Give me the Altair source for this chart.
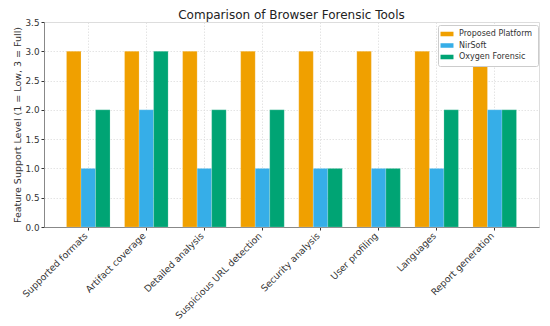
import altair as alt
import pandas as pd

categories = ["Supported formats", "Artifact coverage", "Detailed analysis",
              "Suspicious URL detection", "Security analysis", "User profiling",
              "Languages", "Report generation"]
tools = ["Proposed Platform", "NirSoft", "Oxygen Forensic"]
proposed = [3, 3, 3, 3, 3, 3, 3, 3]
nirsoft = [1, 2, 1, 1, 1, 1, 1, 2]
oxygen = [2, 3, 2, 2, 1, 1, 2, 2]
y_ticks = [0.0, 0.5, 1.0, 1.5, 2.0, 2.5, 3.0, 3.5]
colors = ["#F0A000", "#36AEE8", "#00A474"]

rows = []
for series, name in zip([proposed, nirsoft, oxygen], tools):
    for c, v in zip(categories, series):
        rows.append({"Feature": c, "Tool": name, "Level": v})
df = pd.DataFrame(rows)

font = "DejaVu Sans"

chart = alt.Chart(df).mark_bar(stroke="white", strokeWidth=0.3, strokeOpacity=0.6).encode(
    x=alt.X("Feature:N", sort=categories,
            scale=alt.Scale(paddingInner=0.25, paddingOuter=0.3875),
            axis=alt.Axis(title=None, labelAngle=-45, labelAlign="right", labelBaseline="top",
                          labelFontSize=9.3, labelColor="#333333", labelFont=font, labelPadding=1,
                          labelOffset=-5,
                          grid=True, gridColor="#dddddd", gridDash=[1.5, 1.5], gridWidth=0.8,
                          tickColor="#333333", tickSize=3, domainColor="#888888", labelLimit=200)),
    xOffset=alt.XOffset("Tool:N", sort=tools, scale=alt.Scale(paddingInner=0, paddingOuter=0)),
    y=alt.Y("Level:Q",
            scale=alt.Scale(domain=[0, 3.5], nice=False),
            axis=alt.Axis(title="Feature Support Level (1 = Low, 3 = Full)", values=y_ticks,
                          format=".1f", labelFontSize=8.8, labelColor="#333333", labelFont=font,
                          titleFont=font, titleFontSize=9.5, titleFontWeight="normal",
                          titleColor="#333333", titlePadding=3,
                          grid=True, gridColor="#dddddd", gridDash=[1.5, 1.5], gridWidth=0.8,
                          tickColor="#333333", tickSize=3, domainColor="#888888")),
    color=alt.Color("Tool:N", sort=tools, scale=alt.Scale(domain=tools, range=colors),
                    legend=alt.Legend(title=None, orient="none", legendX=394, legendY=3,
                                      labelFont=font, labelFontSize=8, labelColor="#333333",
                                      symbolType="M-2,-0.7H2V0.7H-2Z", symbolSize=42,
                                      symbolStrokeWidth=0, labelOffset=8, rowPadding=3.5,
                                      fillColor="white", strokeColor="#cccccc", padding=5,
                                      cornerRadius=2)),
).properties(
    width=495, height=205,
    title=alt.TitleParams("Comparison of Browser Forensic Tools", font=font, fontSize=12,
                          fontWeight="normal", color="#222222", offset=-4),
    autosize=alt.AutoSizeParams(type="none"),
    padding={"left": 36, "top": 14, "right": 3, "bottom": 96},
).configure_view(stroke=None).configure(background="white")

chart.save("out.html", embed_options={"renderer": "svg", "actions": False})
